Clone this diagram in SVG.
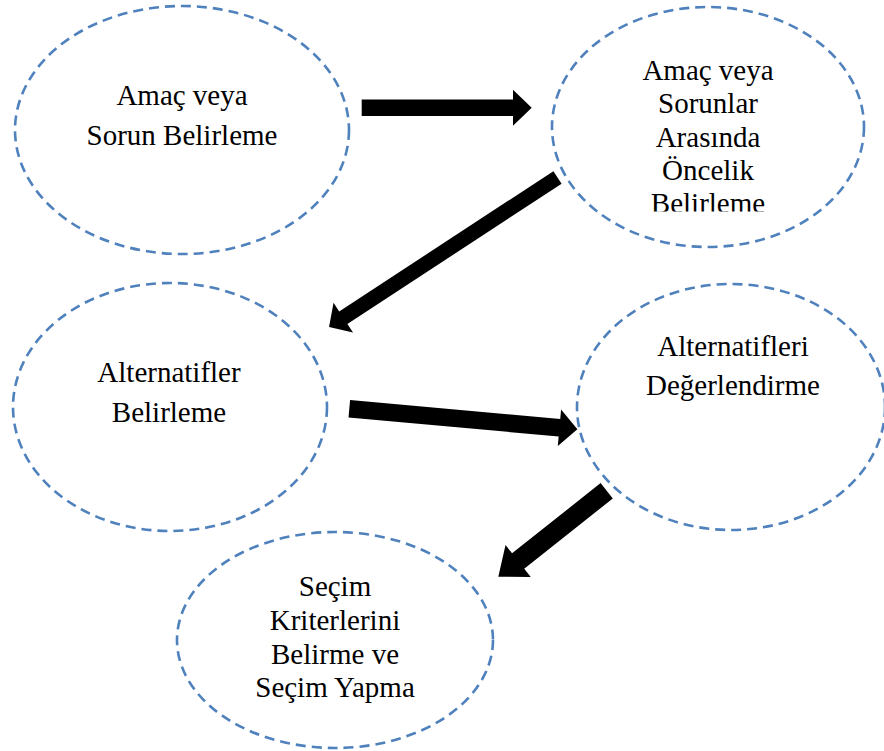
<svg xmlns="http://www.w3.org/2000/svg" width="884" height="751" viewBox="0 0 884 751">
<style>
.node ellipse{fill:none;stroke:#4F81BD;stroke-width:2.6;stroke-dasharray:10 6}
.node text{font-size:29px;fill:#000;text-anchor:middle}
.arrow{fill:#000;stroke:none}
</style>
<defs>
<clipPath id="clip2"><rect x="560" y="40" width="300" height="171.5"/></clipPath>
</defs>
<rect width="884" height="751" fill="#fff"/>
<g id="n1" class="node" font-family="Liberation Serif, Times New Roman, DejaVu Serif, serif">
<ellipse cx="182" cy="130" rx="167" ry="124"/>
<text x="182" y="105">Amaç veya</text>
<text x="182" y="145">Sorun Belirleme</text>
</g>
<g id="n2" class="node" font-family="Liberation Serif, Times New Roman, DejaVu Serif, serif">
<ellipse cx="708" cy="127" rx="156" ry="120"/>
<g clip-path="url(#clip2)">
<text x="708" y="80">Amaç veya</text>
<text x="708" y="113">Sorunlar</text>
<text x="708" y="147">Arasında</text>
<text x="708" y="180">Öncelik</text>
<text x="708" y="213">Belirleme</text>
</g>
</g>
<g id="n3" class="node" font-family="Liberation Serif, Times New Roman, DejaVu Serif, serif">
<ellipse cx="170" cy="407" rx="157" ry="124"/>
<text x="169" y="382">Alternatifler</text>
<text x="169" y="422">Belirleme</text>
</g>
<g id="n4" class="node" font-family="Liberation Serif, Times New Roman, DejaVu Serif, serif">
<ellipse cx="731" cy="407" rx="154" ry="123"/>
<text x="733" y="356">Alternatifleri</text>
<text x="733" y="395">Değerlendirme</text>
</g>
<g id="n5" class="node" font-family="Liberation Serif, Times New Roman, DejaVu Serif, serif">
<ellipse cx="335" cy="640" rx="158" ry="108"/>
<text x="335" y="596">Seçim</text>
<text x="335" y="630">Kriterlerini</text>
<text x="335" y="664">Belirme ve</text>
<text x="335" y="697">Seçim Yapma</text>
</g>
<g id="connectors">
<polygon class="arrow" transform="translate(361.7,107.7)" points="0,-8.3 151.3,-8.3 151.3,-18 170,0 151.3,18 151.3,8.3 0,8.3"/>
<polygon class="arrow" transform="translate(557.5,177.5) rotate(146.8)" points="0,-7.5 256,-7.5 256,-17.8 273,0 256,17.8 256,7.5 0,7.5"/>
<polygon class="arrow" transform="translate(349.3,408.8) rotate(5.14)" points="0,-8.8 211,-8.8 211,-18.4 229,0 211,18.4 211,8.8 0,8.8"/>
<polygon class="arrow" transform="translate(606.7,490.8) rotate(141.6)" points="0,-9.8 113,-9.8 113,-20.3 138.3,0 113,20.3 113,9.8 0,9.8"/>
</g>
</svg>
